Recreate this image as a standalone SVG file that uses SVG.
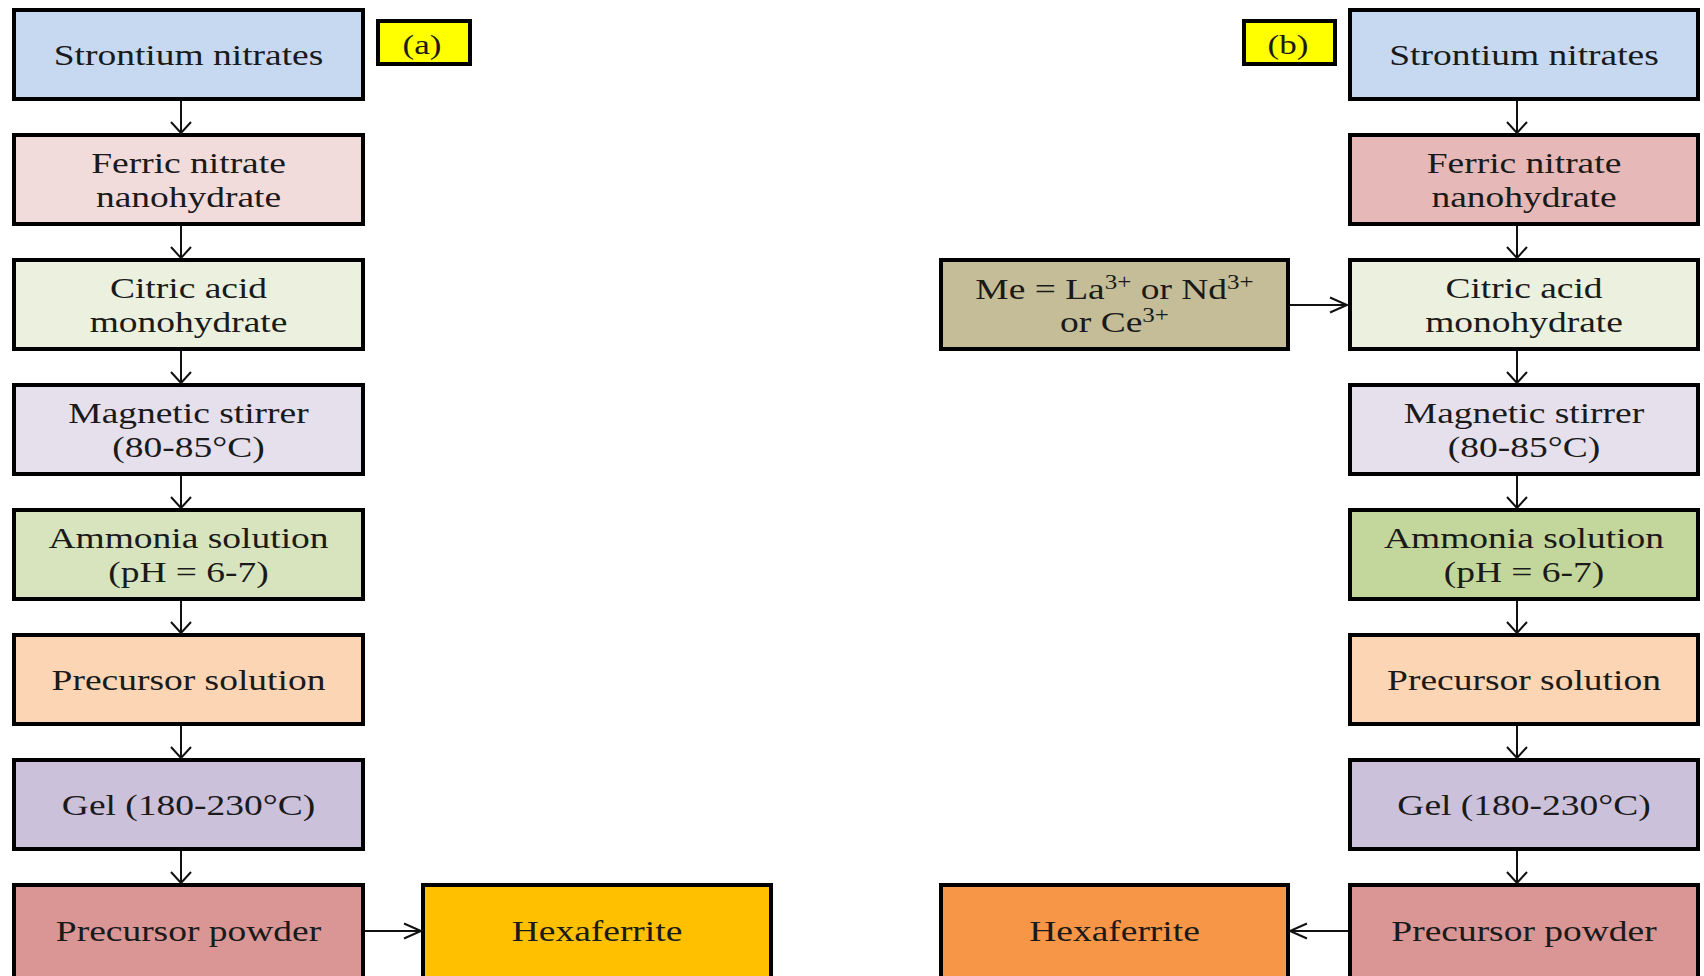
<svg xmlns="http://www.w3.org/2000/svg" width="1704" height="976" viewBox="0 0 1704 976">
<style>
.box{stroke:#000;stroke-width:4}
.lbl{fill:#FFFF00;stroke:#000;stroke-width:4}
.t{font-family:"Liberation Serif","Times New Roman",serif;font-size:30px;fill:#1a1a1a;text-anchor:middle}
.tl{font-family:"Liberation Serif","Times New Roman",serif;font-size:28px;fill:#1a1a1a;text-anchor:middle}
.sup{font-size:20px}
.c{stroke:#111;stroke-width:2;fill:none}
.cv{marker-end:url(#arrowV)}
.ch{marker-end:url(#arrowH)}
</style>
<defs>
<marker id="arrowV" markerUnits="userSpaceOnUse" viewBox="-14 -12 16 24" markerWidth="16" markerHeight="24" refX="0" refY="0" orient="auto" overflow="visible">
<path d="M-11,-10 L0,0 L-11,10" fill="none" stroke="#111" stroke-width="2"/>
</marker>
<marker id="arrowH" markerUnits="userSpaceOnUse" viewBox="-20 -10 22 20" markerWidth="22" markerHeight="20" refX="0" refY="0" orient="auto" overflow="visible">
<path d="M-17,-7.5 L0,0 L-17,7.5" fill="none" stroke="#111" stroke-width="2"/>
</marker>
</defs>
<rect width="1704" height="976" fill="#fff"/>

<!-- Left column (a) -->
<g id="a-strontium"><rect class="box" x="14" y="10" width="349" height="89" fill="#C6D9F1"/><text class="t" transform="matrix(1.25 0 0 1 188.5 65)">Strontium nitrates</text></g>
<g id="a-ferric"><rect class="box" x="14" y="135" width="349" height="89" fill="#F2DCDB"/><text class="t" transform="matrix(1.25 0 0 1 188.5 173)">Ferric nitrate</text><text class="t" transform="matrix(1.25 0 0 1 188.5 207)">nanohydrate</text></g>
<g id="a-citric"><rect class="box" x="14" y="260" width="349" height="89" fill="#EBF1DE"/><text class="t" transform="matrix(1.25 0 0 1 188.5 298)">Citric acid</text><text class="t" transform="matrix(1.25 0 0 1 188.5 332)">monohydrate</text></g>
<g id="a-stirrer"><rect class="box" x="14" y="385" width="349" height="89" fill="#E5E0EC"/><text class="t" transform="matrix(1.25 0 0 1 188.5 423)">Magnetic stirrer</text><text class="t" transform="matrix(1.25 0 0 1 188.5 457)">(80-85°C)</text></g>
<g id="a-ammonia"><rect class="box" x="14" y="510" width="349" height="89" fill="#D7E4BD"/><text class="t" transform="matrix(1.25 0 0 1 188.5 548)">Ammonia solution</text><text class="t" transform="matrix(1.25 0 0 1 188.5 582)">(pH = 6-7)</text></g>
<g id="a-precsol"><rect class="box" x="14" y="635" width="349" height="89" fill="#FCD5B5"/><text class="t" transform="matrix(1.25 0 0 1 188.5 690)">Precursor solution</text></g>
<g id="a-gel"><rect class="box" x="14" y="760" width="349" height="89" fill="#CCC1DA"/><text class="t" transform="matrix(1.25 0 0 1 188.5 815)">Gel (180-230°C)</text></g>
<g id="a-powder"><rect class="box" x="14" y="885" width="349" height="100" fill="#D99694"/><text class="t" transform="matrix(1.25 0 0 1 188.5 941)">Precursor powder</text></g>
<g id="a-hexa"><rect class="box" x="423" y="885" width="348" height="100" fill="#FFC000"/><text class="t" transform="matrix(1.25 0 0 1 597 941)">Hexaferrite</text></g>
<g id="label-a"><rect class="lbl" x="378" y="21" width="92" height="43"/><text class="tl" transform="matrix(1.25 0 0 1 422 54)">(a)</text></g>

<!-- Right column (b) -->
<g id="label-b"><rect class="lbl" x="1244" y="21" width="91" height="43"/><text class="tl" transform="matrix(1.25 0 0 1 1288 54)">(b)</text></g>
<g id="b-strontium"><rect class="box" x="1350" y="10" width="348" height="89" fill="#C6D9F1"/><text class="t" transform="matrix(1.25 0 0 1 1524 65)">Strontium nitrates</text></g>
<g id="b-ferric"><rect class="box" x="1350" y="135" width="348" height="89" fill="#E6B9B8"/><text class="t" transform="matrix(1.25 0 0 1 1524 173)">Ferric nitrate</text><text class="t" transform="matrix(1.25 0 0 1 1524 207)">nanohydrate</text></g>
<g id="b-me"><rect class="box" x="941" y="260" width="347" height="89" fill="#C4BD97"/><text class="t" transform="matrix(1.25 0 0 1 1114.5 299)">Me = La<tspan class="sup" dy="-10">3+</tspan><tspan dy="10"> or Nd</tspan><tspan class="sup" dy="-10">3+</tspan></text><text class="t" transform="matrix(1.25 0 0 1 1114.5 332)">or Ce<tspan class="sup" dy="-10">3+</tspan></text></g>
<g id="b-citric"><rect class="box" x="1350" y="260" width="348" height="89" fill="#EBF1DE"/><text class="t" transform="matrix(1.25 0 0 1 1524 298)">Citric acid</text><text class="t" transform="matrix(1.25 0 0 1 1524 332)">monohydrate</text></g>
<g id="b-stirrer"><rect class="box" x="1350" y="385" width="348" height="89" fill="#E5E0EC"/><text class="t" transform="matrix(1.25 0 0 1 1524 423)">Magnetic stirrer</text><text class="t" transform="matrix(1.25 0 0 1 1524 457)">(80-85°C)</text></g>
<g id="b-ammonia"><rect class="box" x="1350" y="510" width="348" height="89" fill="#C3D69B"/><text class="t" transform="matrix(1.25 0 0 1 1524 548)">Ammonia solution</text><text class="t" transform="matrix(1.25 0 0 1 1524 582)">(pH = 6-7)</text></g>
<g id="b-precsol"><rect class="box" x="1350" y="635" width="348" height="89" fill="#FCD5B5"/><text class="t" transform="matrix(1.25 0 0 1 1524 690)">Precursor solution</text></g>
<g id="b-gel"><rect class="box" x="1350" y="760" width="348" height="89" fill="#CCC1DA"/><text class="t" transform="matrix(1.25 0 0 1 1524 815)">Gel (180-230°C)</text></g>
<g id="b-powder"><rect class="box" x="1350" y="885" width="348" height="100" fill="#D99694"/><text class="t" transform="matrix(1.25 0 0 1 1524 941)">Precursor powder</text></g>
<g id="b-hexa"><rect class="box" x="941" y="885" width="347" height="100" fill="#F79646"/><text class="t" transform="matrix(1.25 0 0 1 1114.5 941)">Hexaferrite</text></g>

<g id="connectors">
<line class="c cv" x1="181" y1="101" x2="181" y2="133"/>
<line class="c cv" x1="181" y1="226" x2="181" y2="258"/>
<line class="c cv" x1="181" y1="351" x2="181" y2="383"/>
<line class="c cv" x1="181" y1="476" x2="181" y2="508"/>
<line class="c cv" x1="181" y1="601" x2="181" y2="633"/>
<line class="c cv" x1="181" y1="726" x2="181" y2="758"/>
<line class="c cv" x1="181" y1="851" x2="181" y2="883"/>
<line class="c ch" x1="365" y1="931" x2="421" y2="931"/>
<line class="c cv" x1="1517" y1="101" x2="1517" y2="133"/>
<line class="c cv" x1="1517" y1="226" x2="1517" y2="258"/>
<line class="c cv" x1="1517" y1="351" x2="1517" y2="383"/>
<line class="c cv" x1="1517" y1="476" x2="1517" y2="508"/>
<line class="c cv" x1="1517" y1="601" x2="1517" y2="633"/>
<line class="c cv" x1="1517" y1="726" x2="1517" y2="758"/>
<line class="c cv" x1="1517" y1="851" x2="1517" y2="883"/>
<line class="c ch" x1="1290" y1="305" x2="1347" y2="305"/>
<line class="c ch" x1="1348" y1="931" x2="1290" y2="931"/>
</g>
</svg>
